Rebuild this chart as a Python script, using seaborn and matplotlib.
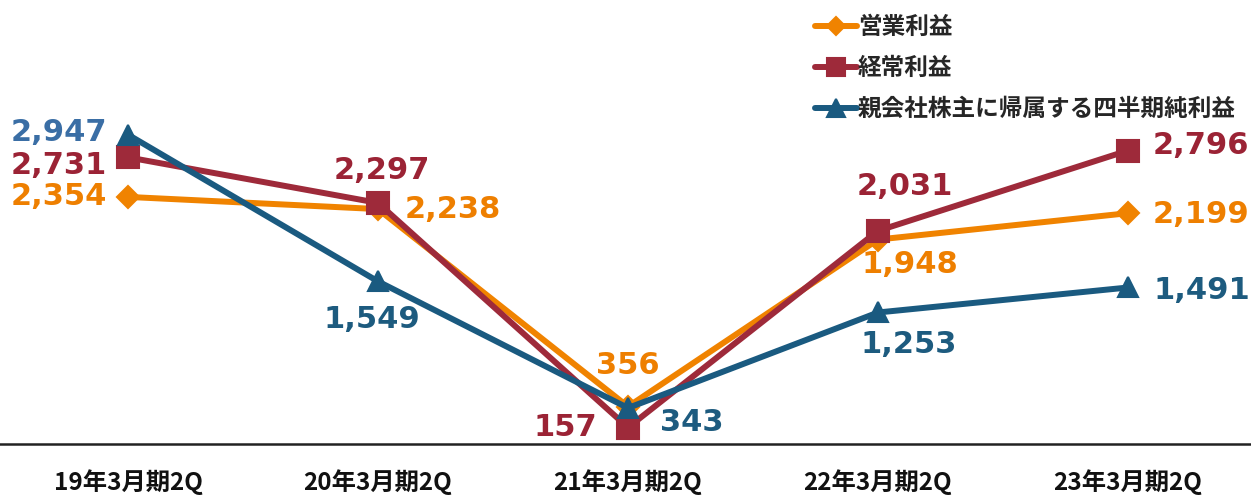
import numpy as np
import pandas as pd
import matplotlib
matplotlib.use('Agg')
import matplotlib.pyplot as plt
import seaborn as sns

# data
periods = ['19年3月期2Q', '20年3月期2Q', '21年3月期2Q', '22年3月期2Q', '23年3月期2Q']
operating_profit = [2354, 2238, 356, 1948, 2199]
ordinary_profit = [2731, 2297, 157, 2031, 2796]
net_profit = [2947, 1549, 343, 1253, 1491]
series_names = ['営業利益', '経常利益', '親会社株主に帰属する四半期純利益']

sns.set_style('white')
plt.rcParams['font.family'] = ['Noto Sans CJK JP', 'DejaVu Sans']

df = pd.DataFrame({
    'x': list(range(len(periods))) * 3,
    'value': operating_profit + ordinary_profit + net_profit,
    'series': [s for s in series_names for _ in periods],
})

line_colors = {'営業利益': '#F08300', '経常利益': '#9E2A3A',
               '親会社株主に帰属する四半期純利益': '#1A5A80'}
markers = {'営業利益': 'D', '経常利益': 's', '親会社株主に帰属する四半期純利益': '^'}
msize = {'営業利益': 11, '経常利益': 15.5, '親会社株主に帰属する四半期純利益': 15}

fig = plt.figure(figsize=(12.51, 4.95), dpi=100)
ax = fig.add_axes([0, 51 / 495, 1, 444 / 495])

for name in series_names:
    sub = df[df['series'] == name]
    sns.lineplot(data=sub, x='x', y='value', ax=ax, color=line_colors[name],
                 marker=markers[name], markersize=msize[name], linewidth=4.3,
                 markeredgecolor=line_colors[name], markeredgewidth=1.5,
                 solid_joinstyle='round', label=name)

ax.set_xlim(-0.512, 4.492)
ax.set_ylim(0, 4230)
ax.set_xlabel('')
ax.set_ylabel('')
ax.set_yticks([])
ax.set_xticks(range(len(periods)))
ax.set_xticklabels(periods, fontsize=17.5, fontweight='bold', color='#111111')
ax.tick_params(axis='x', length=0, pad=18)
for s in ['top', 'left', 'right']:
    ax.spines[s].set_visible(False)
ax.spines['bottom'].set_color('#222222')
ax.spines['bottom'].set_linewidth(1.8)

# value labels: offset px, alignment
label_colors = {'営業利益': '#EE7F00', '経常利益': '#9B2335',
                '親会社株主に帰属する四半期純利益': '#1D5B7F'}
offsets = {
    '営業利益': [(-21, 0, 'right'), (27, 0, 'left'), (0, 41, 'center'),
             (32, -25, 'center'), (25, -1, 'left')],
    '経常利益': [(-21, -8, 'right'), (4, 32, 'center'), (-31, 0, 'right'),
             (27, 44, 'center'), (25, 5, 'left')],
    '親会社株主に帰属する四半期純利益': [(-21, 2, 'right'), (-6, -38, 'center'),
                          (32, -15, 'left'), (31, -32, 'center'), (25, -3, 'left')],
}
values = {'営業利益': operating_profit, '経常利益': ordinary_profit,
          '親会社株主に帰属する四半期純利益': net_profit}
for name in series_names:
    for i, v in enumerate(values[name]):
        dx, dy, ha = offsets[name][i]
        col = label_colors[name]
        if name == series_names[2] and i == 0:
            col = '#3A6EA5'
        ax.annotate(f'{v:,}', (i, v), xytext=(dx, dy), textcoords='offset pixels',
                    ha=ha, va='center', fontsize=22, fontweight='bold',
                    color=col, family='DejaVu Sans')

leg = ax.legend(loc='upper left', bbox_to_anchor=(800 / 1251, 1.0),
                frameon=False, fontsize=17, handlelength=1.75, handletextpad=0.05,
                labelspacing=0.72, borderaxespad=0.25)
for t in leg.get_texts():
    t.set_fontweight('bold')
for h in leg.legend_handles:
    h.set_markersize(h.get_markersize() * 0.85)

fig.savefig('out.png', dpi=100)
